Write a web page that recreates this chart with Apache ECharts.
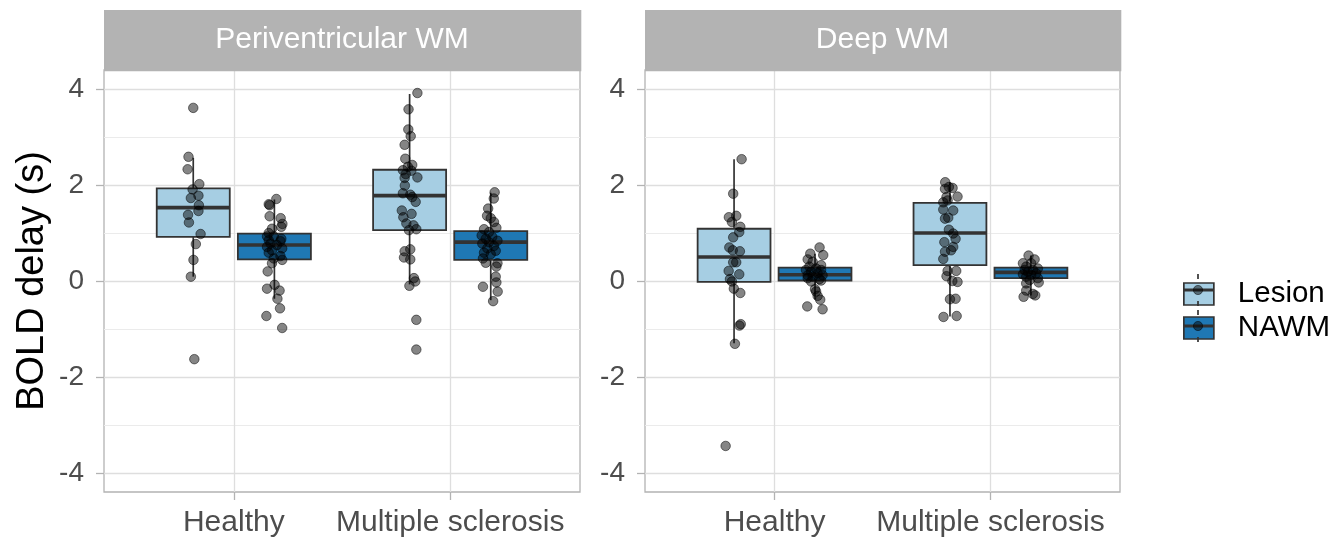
<!DOCTYPE html>
<html>
<head>
<meta charset="utf-8">
<script src="https://cdn.jsdelivr.net/npm/echarts@6/dist/echarts.min.js"></script>
<style>html,body{margin:0;padding:0;background:#fff;}#chart{width:1343px;height:540px;}</style>
</head>
<body>
<div id="chart"></div>
<script>
// ---------- data ----------
const categories = ['Healthy', 'Multiple sclerosis'];
const panels = ['Periventricular WM', 'Deep WM'];
const groups = ['Lesion', 'NAWM'];
const yTicks = [-4, -2, 0, 2, 4];
const yMinorTicks = [-3, -1, 1, 3];

// box stats per category: [lower whisker, Q1, median, Q3, upper whisker]
const pvLesionBox = [[0.09, 0.92, 1.53, 1.93, 2.57], [-0.07, 1.06, 1.78, 2.32, 3.90]];
const pvNawmBox   = [[-0.37, 0.45, 0.75, 0.99, 1.70], [-0.40, 0.44, 0.81, 1.04, 1.84]];
const dwLesionBox = [[-1.30, -0.02, 0.50, 1.09, 2.54], [-0.74, 0.33, 1.00, 1.63, 2.06]];
const dwNawmBox   = [[-0.38, 0.01, 0.13, 0.28, 0.57], [-0.30, 0.06, 0.18, 0.28, 0.53]];

// jittered points: [jitter (x units), BOLD delay (s)]
const pvHealthyLesion = [[0.000,3.61],[-0.022,2.59],[-0.026,2.33],[0.028,2.02],[-0.003,1.91],[0.024,1.78],[-0.011,1.73],[0.026,1.58],[0.024,1.46],[-0.024,1.38],[-0.020,1.22],[0.034,0.98],[0.012,0.77],[0.001,0.44],[-0.011,0.09],[0.005,-1.63]];
const pvHealthyNawm = [[0.009,1.71],[-0.026,1.60],[-0.022,1.58],[-0.022,1.35],[0.029,1.31],[0.037,1.19],[0.032,1.13],[-0.011,1.09],[-0.026,1.00],[-0.034,0.93],[-0.003,0.93],[0.032,0.88],[-0.026,0.85],[0.028,0.83],[-0.018,0.78],[0.012,0.75],[-0.034,0.71],[0.036,0.68],[-0.011,0.64],[-0.026,0.59],[0.028,0.52],[0.036,0.44],[-0.003,0.47],[-0.011,0.37],[-0.031,0.20],[0.001,-0.08],[-0.034,-0.16],[0.024,-0.20],[0.014,-0.37],[0.026,-0.57],[-0.037,-0.73],[0.036,-0.98]];
const pvMsLesion = [[0.036,3.92],[-0.005,3.58],[-0.006,3.16],[0.005,3.02],[-0.023,2.84],[-0.020,2.55],[0.012,2.42],[-0.008,2.38],[-0.031,2.31],[0.008,2.30],[-0.018,2.23],[0.036,2.16],[-0.023,2.15],[-0.022,1.99],[-0.031,1.83],[0.003,1.80],[0.012,1.75],[0.028,1.65],[-0.036,1.47],[0.009,1.40],[-0.029,1.33],[-0.015,1.20],[0.018,1.16],[0.031,1.08],[-0.003,1.06],[0.003,0.66],[-0.023,0.62],[-0.026,0.49],[0.003,0.45],[0.020,0.06],[0.026,-0.01],[-0.001,-0.10],[0.031,-0.81],[0.031,-1.43]];
const pvMsNawm = [[0.018,1.85],[0.014,1.72],[-0.012,1.51],[-0.017,1.36],[0.000,1.31],[0.015,1.23],[0.026,1.11],[-0.031,1.08],[-0.008,1.02],[-0.042,0.95],[0.007,0.92],[-0.023,0.88],[0.031,0.84],[-0.008,0.81],[-0.039,0.78],[0.015,0.73],[-0.016,0.68],[0.023,0.63],[-0.031,0.59],[0.000,0.56],[-0.036,0.47],[-0.023,0.38],[0.031,0.37],[0.026,0.30],[0.023,0.09],[0.026,-0.03],[-0.036,-0.12],[0.032,-0.22],[0.011,-0.42]];
const dwHealthyLesion = [[0.035,2.54],[-0.004,1.82],[-0.024,1.33],[0.010,1.36],[-0.010,1.23],[0.029,1.13],[0.024,1.02],[-0.004,0.91],[-0.022,0.70],[-0.006,0.64],[0.027,0.62],[-0.004,0.39],[0.010,0.39],[-0.025,0.21],[0.024,0.14],[-0.019,0.04],[-0.010,-0.01],[-0.001,-0.16],[0.029,-0.25],[0.031,-0.90],[0.025,-0.93],[0.004,-1.31],[-0.039,-3.44]];
const dwHealthyNawm = [[0.021,0.70],[-0.022,0.57],[0.038,0.54],[-0.034,0.45],[-0.011,0.40],[0.028,0.33],[-0.026,0.30],[0.005,0.26],[-0.042,0.23],[0.028,0.23],[-0.018,0.19],[0.012,0.16],[-0.034,0.12],[0.035,0.12],[-0.011,0.09],[-0.034,0.06],[0.020,0.04],[0.028,0.01],[-0.018,-0.01],[0.000,-0.17],[0.005,-0.22],[0.012,-0.31],[0.024,-0.39],[-0.036,-0.53],[0.035,-0.59]];
const dwMsLesion = [[-0.022,2.06],[-0.023,1.92],[0.012,1.94],[-0.005,1.96],[0.035,1.76],[-0.016,1.75],[-0.031,1.64],[-0.011,1.68],[0.015,1.47],[-0.031,1.49],[-0.023,1.30],[-0.008,1.32],[-0.005,1.07],[0.015,0.99],[0.026,0.88],[-0.026,0.81],[0.015,0.71],[0.005,0.64],[-0.023,0.61],[-0.031,0.46],[-0.011,0.21],[0.029,0.21],[-0.016,0.10],[0.011,0.00],[0.035,-0.02],[0.000,-0.38],[0.026,-0.37],[-0.030,-0.75],[0.031,-0.73]];
const dwMsNawm = [[-0.011,0.53],[0.017,0.45],[-0.037,0.37],[0.001,0.37],[-0.022,0.30],[0.032,0.26],[-0.029,0.23],[0.009,0.23],[-0.014,0.19],[0.024,0.16],[-0.037,0.14],[0.001,0.12],[-0.022,0.09],[0.032,0.06],[-0.006,0.02],[0.036,-0.03],[-0.022,-0.05],[-0.022,-0.20],[0.009,-0.27],[-0.034,-0.33],[0.020,-0.30]];

// ---------- styling / layout ----------
const FONT = '"Liberation Sans", Arial, Helvetica, sans-serif';
const fillColors = ['#A6CEE3', '#1F78B4'];
const DODGE = 0.1875;
const BOX_W = 0.3375;
const gridDefs = [
  {left: 104, top: 70, width: 476, height: 422},
  {left: 645, top: 70, width: 475, height: 422}
];
const boxSets = [[pvLesionBox, pvNawmBox], [dwLesionBox, dwNawmBox]];
const pointSets = [
  [[pvHealthyLesion, pvMsLesion], [pvHealthyNawm, pvMsNawm]],
  [[dwHealthyLesion, dwMsLesion], [dwHealthyNawm, dwMsNawm]]
];

const chart = echarts.init(document.getElementById('chart'), null, {renderer: 'canvas'});

const grids = gridDefs.map(g => Object.assign({
  show: true, borderColor: '#B3B3B3', borderWidth: 1.3, backgroundColor: 'transparent', containLabel: false
}, g));

const xAxes = gridDefs.map((g, i) => ({
  type: 'value', gridIndex: i, min: 0.4, max: 2.6,
  axisLine: {show: false, onZero: false},
  axisTick: {show: true, length: 8, customValues: [1, 2], lineStyle: {color: '#B3B3B3', width: 1.3}},
  axisLabel: {
    customValues: [1, 2], margin: 16, color: '#4D4D4D', fontSize: 30, fontFamily: FONT,
    formatter: v => categories[Math.round(v) - 1]
  },
  splitLine: {show: true, lineStyle: {color: '#DEDEDE', width: 1.3}}
}));

const yAxes = [];
gridDefs.forEach((g, i) => {
  yAxes.push({
    type: 'value', gridIndex: i, min: -4.4, max: 4.4,
    name: i === 0 ? 'BOLD delay (s)' : '',
    nameLocation: 'middle', nameRotate: 90, nameGap: 52,
    nameTextStyle: {color: '#000', fontSize: 38, fontFamily: FONT},
    axisLine: {show: false, onZero: false},
    axisTick: {show: true, length: 8, customValues: yTicks, lineStyle: {color: '#B3B3B3', width: 1.3}},
    axisLabel: {customValues: yTicks, margin: 20, color: '#4D4D4D', fontSize: 28, fontFamily: FONT},
    splitLine: {show: true, lineStyle: {color: '#DEDEDE', width: 1.3}}
  });
  yAxes.push({
    type: 'value', gridIndex: i, min: -4.4, max: 4.4, position: 'left',
    axisLine: {show: false, onZero: false},
    axisTick: {show: false, customValues: yMinorTicks},
    axisLabel: {show: false, customValues: yMinorTicks},
    splitLine: {show: true, lineStyle: {color: '#EBEBEB', width: 1}}
  });
});

const series = [];
[0, 1].forEach(p => {
  [0, 1].forEach(gi => {
    const off = gi === 0 ? -DODGE : DODGE;
    series.push({
      type: 'custom', name: groups[gi], xAxisIndex: p, yAxisIndex: p * 2, z: 2,
      itemStyle: {color: fillColors[gi]},
      data: boxSets[p][gi].map((b, ci) => [ci + 1].concat(b)),
      encode: {x: 0, y: [1, 2, 3, 4, 5]},
      renderItem: function (params, api) {
        const x = api.value(0) + off;
        const lo = api.coord([x, api.value(1)]);
        const q1 = api.coord([x, api.value(2)]);
        const md = api.coord([x, api.value(3)]);
        const q3 = api.coord([x, api.value(4)]);
        const hi = api.coord([x, api.value(5)]);
        const hw = api.size([BOX_W, 0])[0] / 2;
        const lineStyle = {stroke: '#333333', lineWidth: 1.7};
        return {
          type: 'group',
          children: [
            {type: 'line', shape: {x1: q3[0], y1: q3[1], x2: hi[0], y2: hi[1]}, style: lineStyle},
            {type: 'line', shape: {x1: q1[0], y1: q1[1], x2: lo[0], y2: lo[1]}, style: lineStyle},
            {type: 'rect', shape: {x: q3[0] - hw, y: q3[1], width: hw * 2, height: q1[1] - q3[1]},
             style: {fill: fillColors[gi], stroke: '#333333', lineWidth: 1.8}},
            {type: 'line', shape: {x1: md[0] - hw, y1: md[1], x2: md[0] + hw, y2: md[1]},
             style: {stroke: '#333333', lineWidth: 3.6}}
          ]
        };
      }
    });
  });
});
[0, 1].forEach(p => {
  [0, 1].forEach(gi => {
    const off = gi === 0 ? -DODGE : DODGE;
    const data = [];
    pointSets[p][gi].forEach((pts, ci) => {
      pts.forEach(([j, v]) => data.push([ci + 1 + off + j, v]));
    });
    series.push({
      type: 'scatter', xAxisIndex: p, yAxisIndex: p * 2, z: 4, silent: true,
      symbolSize: 9.5, data: data,
      itemStyle: {color: 'rgba(0,0,0,0.48)', borderColor: 'rgba(0,0,0,0.5)', borderWidth: 1, opacity: 1}
    });
  });
});

// strips + legend key details
const graphic = [];
gridDefs.forEach((g, i) => {
  graphic.push({type: 'rect', left: g.left, top: 10, z: 1,
    shape: {width: g.width, height: 60}, style: {fill: '#B3B3B3', stroke: '#B3B3B3', lineWidth: 1.3}});
  graphic.push({type: 'text', x: g.left + g.width / 2, y: 40, z: 2,
    style: {text: panels[i], fill: '#FFFFFF', font: '30px ' + FONT, align: 'center', verticalAlign: 'middle'}});
});
[290, 326].forEach(cy => {
  graphic.push({type: 'line', z: 100, shape: {x1: 1198, y1: cy - 16, x2: 1198, y2: cy - 11}, style: {stroke: '#333333', lineWidth: 1.7}});
  graphic.push({type: 'line', z: 100, shape: {x1: 1198, y1: cy + 11, x2: 1198, y2: cy + 16}, style: {stroke: '#333333', lineWidth: 1.7}});
  graphic.push({type: 'line', z: 100, shape: {x1: 1183, y1: cy, x2: 1213, y2: cy}, style: {stroke: '#333333', lineWidth: 3}});
  graphic.push({type: 'circle', z: 101, shape: {cx: 1198, cy: cy, r: 4.6}, style: {fill: 'rgba(0,0,0,0.48)', stroke: 'rgba(0,0,0,0.5)', lineWidth: 1}});
});

chart.setOption({
  backgroundColor: '#FFFFFF',
  animation: false,
  grid: grids,
  xAxis: xAxes,
  yAxis: yAxes,
  legend: {
    data: groups, orient: 'vertical', left: 1183, top: 279, padding: 0,
    itemWidth: 30, itemHeight: 22, itemGap: 4, icon: 'rect', selectedMode: false,
    itemStyle: {borderColor: '#333333', borderWidth: 1.7},
    textStyle: {color: '#000', fontSize: 29.5, fontFamily: FONT, lineHeight: 22, padding: [0, 0, 0, 19]}
  },
  graphic: graphic,
  series: series
});
</script>
</body>
</html>
